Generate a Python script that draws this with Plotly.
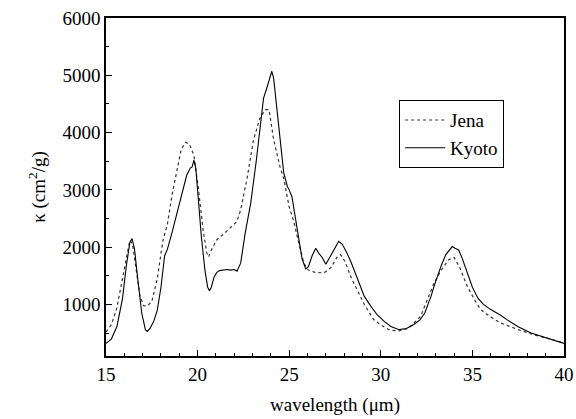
import plotly.graph_objects as go

# Kyoto series (wavelength in micron, kappa in cm^2/g)
kyoto_wl = [15.0, 15.3, 15.6, 15.9, 16.1, 16.3, 16.42, 16.55, 16.75, 16.95, 17.15, 17.25, 17.4, 17.6,
            17.8, 18.0, 18.2, 18.35, 18.6, 18.8, 19.0, 19.2, 19.4, 19.6, 19.7, 19.8, 19.9, 20.05,
            20.2, 20.4, 20.55, 20.65, 20.75, 20.9, 21.05, 21.2, 21.4, 21.6, 21.8, 22.0, 22.15,
            22.35, 22.6, 22.9, 23.2, 23.4, 23.6, 23.8, 23.95, 24.05, 24.15, 24.3, 24.5, 24.7,
            24.9, 25.0, 25.15, 25.3, 25.5, 25.7, 25.9, 26.05, 26.25, 26.45, 26.6, 26.8, 27.0,
            27.2, 27.45, 27.7, 27.9, 28.15, 28.4, 28.7, 29.1, 29.5, 29.8, 30.2, 30.55, 31.0,
            31.4, 31.8, 32.15, 32.4, 32.55, 32.75, 32.9, 33.1, 33.3, 33.55, 33.75, 33.9, 34.05,
            34.25, 34.45, 34.7, 35.0, 35.3, 35.6, 36.0, 36.5, 36.9, 37.5, 38.2, 39.0, 40.0]
kyoto_k = [320, 400, 620, 1100, 1650, 2080, 2150, 1980, 1400, 850, 560, 530, 580, 700,
           900, 1300, 1850, 1960, 2250, 2500, 2800, 3050, 3250, 3380, 3400, 3520, 3380, 2800,
           2200, 1600, 1300, 1240, 1300, 1480, 1560, 1590, 1600, 1610, 1600, 1610, 1580,
           1720, 2250, 2770, 3500, 4000, 4600, 4800, 4950, 5070, 4950, 4500, 3800, 3300,
           3060, 3000, 2880, 2600, 2150, 1800, 1620, 1660, 1850, 1980, 1900, 1820, 1700,
           1820, 1950, 2100, 2050, 1900, 1720, 1480, 1140, 950, 820, 700, 615, 560,
           580, 650, 735, 850, 965, 1150, 1310, 1500, 1680, 1870, 1950, 2010, 1980,
           1950, 1800, 1580, 1300, 1110, 1000, 910, 820, 730, 610, 500, 420, 320]

# Jena series
jena_wl = [15.0, 15.3, 15.6, 15.9, 16.1, 16.3, 16.45, 16.65, 16.85, 17.05, 17.25, 17.5, 17.8,
           18.1, 18.35, 18.6, 18.9, 19.1, 19.33, 19.55, 19.8, 20.05, 20.3, 20.5, 20.6, 20.75,
           21.05, 21.5, 22.15, 22.35, 22.7, 23.05, 23.4, 23.7, 23.9, 24.15, 24.5, 24.7, 25.0,
           25.25, 25.5, 25.8, 26.05, 26.4, 26.9, 27.3, 27.6, 27.8, 28.05, 28.35, 28.7, 29.1,
           29.6, 30.0, 30.5, 31.0, 31.5, 32.17, 32.5, 32.9, 33.3, 33.7, 34.0, 34.3, 34.73,
           35.1, 35.45, 36.0, 36.55, 37.5, 38.36, 39.2, 40.0]
jena_k = [520, 650, 950, 1450, 1850, 2120, 2050, 1600, 1150, 980, 970, 1050, 1450,
          2100, 2400, 2900, 3400, 3700, 3830, 3800, 3600, 3000, 2300, 1900, 1830, 1950,
          2130, 2250, 2450, 2650, 3200, 3870, 4250, 4400, 4400, 3880, 3400, 3200, 2700,
          2450, 2100, 1720, 1600, 1560, 1550, 1650, 1820, 1870, 1750, 1490, 1260, 1000,
          740, 640, 550, 540, 580, 790, 1050, 1370, 1600, 1780, 1820, 1650, 1310,
          1090, 910, 780, 675, 560, 470, 400, 330]

x_ticks = [15, 20, 25, 30, 35, 40]
y_ticks = [1000, 2000, 3000, 4000, 5000, 6000]
x_minor = [v for v in range(16, 40) if v % 5 != 0]
y_minor = [500, 1500, 2500, 3500, 4500, 5500]

FONT = "Liberation Serif, Times, serif"

fig = go.Figure()
fig.add_trace(go.Scatter(x=jena_wl, y=jena_k, mode="lines", name="Jena",
                         line=dict(color="#333333", width=1.2, dash="dot")))
fig.add_trace(go.Scatter(x=kyoto_wl, y=kyoto_k, mode="lines", name="Kyoto",
                         line=dict(color="black", width=1.1)))

axis_common = dict(showline=True, linecolor="black", linewidth=1.5, mirror=True,
                   ticks="inside", ticklen=6, tickwidth=1, tickcolor="black",
                   showgrid=False, zeroline=False, automargin=False,
                   tickfont=dict(family=FONT, size=19, color="black"))

fig.update_xaxes(range=[15, 40], tickmode="array", tickvals=x_ticks,
                 ticktext=[str(v) for v in x_ticks],
                 minor=dict(tickmode="array", tickvals=x_minor, ticks="inside", ticklen=3,
                            tickcolor="black", showgrid=False),
                 title=dict(text="wavelength (μm)", font=dict(family=FONT, size=19, color="black"),
                            standoff=14),
                 **axis_common)
fig.update_yaxes(range=[100, 6000], tickmode="array", tickvals=y_ticks,
                 ticktext=[str(v) for v in y_ticks],
                 minor=dict(tickmode="array", tickvals=y_minor, ticks="inside", ticklen=3,
                            tickcolor="black", showgrid=False),
                 title=dict(text="κ (cm<sup>2</sup>/g)", font=dict(family=FONT, size=19, color="black"),
                            standoff=12),
                 **axis_common)

fig.update_layout(
    template="simple_white",
    width=576, height=419,
    margin=dict(l=106, r=12, t=18, b=63, autoexpand=False),
    paper_bgcolor="white", plot_bgcolor="white",
    font=dict(family=FONT, size=19, color="black"),
    legend=dict(x=0.64, y=0.757, xanchor="left", yanchor="top",
                bordercolor="black", borderwidth=1, bgcolor="white",
                font=dict(family=FONT, size=19, color="black"),
                itemwidth=40, tracegroupgap=0),
)

fig.write_html("out.html", config={"displayModeBar": False},
               post_script="document.body.style.margin='0';")
